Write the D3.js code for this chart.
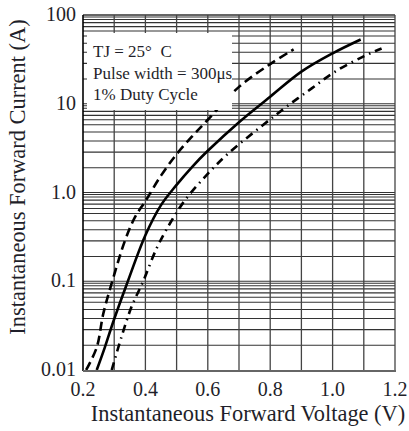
<!DOCTYPE html>
<html>
<head>
<meta charset="utf-8">
<script src="https://cdn.jsdelivr.net/npm/d3@7"></script>
<style>
  html, body { margin: 0; padding: 0; background: #fff; }
  svg text { font-family: "Liberation Serif", "DejaVu Serif", serif; fill: #1f1f2a; }
</style>
</head>
<body>
<div id="chart"></div>
<script>
// Datos (tensión en V, corriente en A)
const dashedV = [0.21, 0.244, 0.265, 0.292, 0.335, 0.367, 0.40, 0.45, 0.50, 0.55, 0.60, 0.70, 0.80, 0.875];
const dashedI = [0.01, 0.018, 0.043, 0.095, 0.29, 0.53, 0.80, 1.55, 2.7, 4.3, 6.6, 15.5, 28, 41];

const solidV = [0.244, 0.27, 0.297, 0.34, 0.40, 0.45, 0.50, 0.55, 0.60, 0.70, 0.80, 0.90, 1.00, 1.09];
const solidI = [0.01, 0.018, 0.035, 0.092, 0.33, 0.72, 1.22, 1.95, 2.95, 6.2, 12, 23, 37, 53];

const dotDashV = [0.292, 0.324, 0.356, 0.393, 0.436, 0.479, 0.527, 0.596, 0.666, 0.778, 0.853, 0.933, 1.008, 1.098, 1.157];
const dotDashI = [0.01, 0.024, 0.052, 0.10, 0.235, 0.45, 0.82, 1.57, 2.76, 5.8, 9.3, 14.9, 23, 34, 42];

// Etiquetas de los ejes
const xTicks = [0.2, 0.4, 0.6, 0.8, 1.0, 1.2];
const xTickLabels = ["0.2", "0.4", "0.6", "0.8", "1.0", "1.2"];
const xGrid = [0.3, 0.4, 0.5, 0.6, 0.7, 0.8, 0.9, 1.0, 1.1, 1.2];
const yTicks = [100, 10, 1, 0.1, 0.01];
const yTickLabels = ["100", "10", "1.0", "0.1", "0.01"];
// Líneas de la rejilla dentro de cada década (tal como aparecen en la imagen)
const decades = [0.01, 0.1, 1, 10];
const minorSteps = [9.5, 8.9, 8.2, 7.4, 6.6, 5.8, 4.8, 3.8, 2.85, 1.9];

const legendLines = ["TJ = 25°  C", "Pulse width = 300μs", "1% Duty Cycle"];

const width = 409, height = 431;
const plotLeft = 83, plotRight = 395, plotTop = 15, plotBottom = 370;

const svg = d3.select("#chart").append("svg")
  .attr("width", width)
  .attr("height", height);

const x = d3.scaleLinear().domain([0.2, 1.2]).range([plotLeft, plotRight]);
const y = d3.scaleLog().domain([0.01, 100]).range([plotBottom, plotTop]);

// Rejilla horizontal
const yGrid = [100];
decades.forEach(d => {
  yGrid.push(d * 10);
  minorSteps.forEach(m => yGrid.push(d * m));
});

svg.append("g")
  .selectAll("line")
  .data(yGrid)
  .enter()
  .append("line")
  .attr("x1", plotLeft)
  .attr("x2", plotRight)
  .attr("y1", d => y(d))
  .attr("y2", d => y(d))
  .attr("stroke", "#333")
  .attr("stroke-width", 1.1);

// Rejilla vertical
svg.append("g")
  .selectAll("line")
  .data(xGrid)
  .enter()
  .append("line")
  .attr("x1", d => x(d))
  .attr("x2", d => x(d))
  .attr("y1", plotTop)
  .attr("y2", plotBottom)
  .attr("stroke", "#444")
  .attr("stroke-width", 1.3);

// Marco
svg.append("line")
  .attr("x1", plotLeft).attr("x2", plotLeft)
  .attr("y1", plotTop).attr("y2", plotBottom + 1)
  .attr("stroke", "#000").attr("stroke-width", 1.6);
svg.append("line")
  .attr("x1", plotLeft).attr("x2", plotRight + 1)
  .attr("y1", plotBottom + 1).attr("y2", plotBottom + 1)
  .attr("stroke", "#666").attr("stroke-width", 2);

// Curvas
svg.append("clipPath").attr("id", "plotClip")
  .append("rect")
  .attr("x", plotLeft).attr("y", plotTop)
  .attr("width", plotRight - plotLeft).attr("height", plotBottom - plotTop);

const line = d3.line()
  .x(d => x(d[0]))
  .y(d => y(d[1]))
  .curve(d3.curveCatmullRom.alpha(0.5));

const curves = [
  { v: dashedV, i: dashedI, dash: "9,5" },
  { v: solidV, i: solidI, dash: null },
  { v: dotDashV, i: dotDashI, dash: "8,5,1.5,5" }
];

svg.append("g")
  .attr("clip-path", "url(#plotClip)")
  .selectAll("path")
  .data(curves)
  .enter()
  .append("path")
  .attr("d", c => line(c.v.map((v, k) => [v, c.i[k]])))
  .attr("fill", "none")
  .attr("stroke", "#000")
  .attr("stroke-width", 2.6)
  .attr("stroke-dasharray", c => c.dash);

// Recuadro de la leyenda
svg.append("rect")
  .attr("x", 87).attr("y", 33)
  .attr("width", 145).attr("height", 77)
  .attr("fill", "#fff");

svg.append("g")
  .selectAll("text")
  .data(legendLines)
  .enter()
  .append("text")
  .attr("x", 93)
  .attr("y", (d, k) => 57 + k * 21.5)
  .attr("font-size", "17px")
  .style("white-space", "pre")
  .text(d => d);

// Etiquetas de los ejes
svg.append("g")
  .selectAll("text")
  .data(yTicks)
  .enter()
  .append("text")
  .attr("x", 76)
  .attr("y", d => y(d) + 6)
  .attr("text-anchor", "end")
  .attr("font-size", "20px")
  .text((d, k) => yTickLabels[k]);

svg.append("g")
  .selectAll("text")
  .data(xTicks)
  .enter()
  .append("text")
  .attr("x", d => x(d))
  .attr("y", 396)
  .attr("text-anchor", "middle")
  .attr("font-size", "20px")
  .text((d, k) => xTickLabels[k]);

svg.append("text")
  .attr("x", 248)
  .attr("y", 421)
  .attr("text-anchor", "middle")
  .attr("font-size", "22.4px")
  .text("Instantaneous Forward Voltage (V)");

svg.append("text")
  .attr("transform", "translate(25,177) rotate(-90)")
  .attr("text-anchor", "middle")
  .attr("font-size", "22.4px")
  .text("Instantaneous Forward Current (A)");
</script>
</body>
</html>
